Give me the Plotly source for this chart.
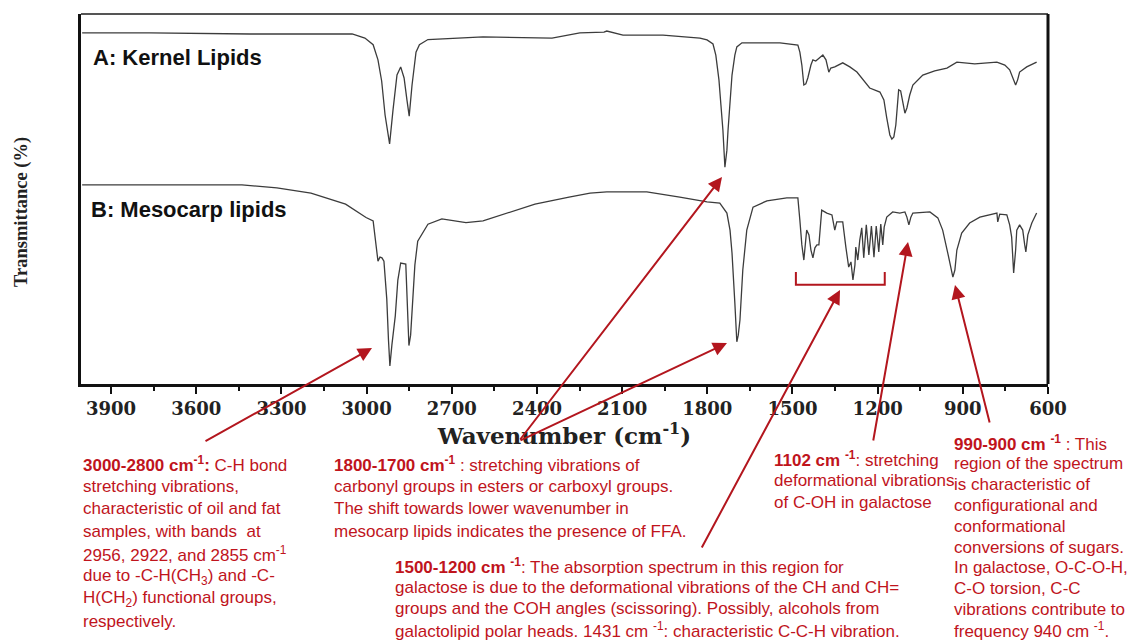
import plotly.graph_objects as go

# ---------------- data ----------------
kernel_wn = [4002, 3763, 3411, 3051, 3006, 2977, 2960, 2947, 2935, 2919, 2907, 2893, 2880, 2868, 2858,
             2850, 2840, 2826, 2814, 2784, 2590, 2347, 2249, 2164, 2154, 2097, 1956, 1826, 1801, 1780,
             1770, 1759, 1752, 1745, 1738, 1731, 1727, 1720, 1713, 1703, 1696, 1678, 1544, 1481, 1474,
             1467, 1460, 1453, 1446, 1435, 1428, 1418, 1411, 1400, 1393, 1382, 1375, 1372, 1365, 1351,
             1323, 1298, 1273, 1245, 1228, 1192, 1178, 1168, 1157, 1150, 1143, 1136, 1129, 1126, 1119,
             1111, 1104, 1097, 1087, 1076, 1059, 1041, 999, 956, 921, 858, 780, 752, 735, 724,
             714, 707, 700, 675, 640]
kernel_T = [94.9, 94.9, 94.6, 94.6, 93.5, 91.7, 87.6, 81.9, 72.7, 64.9, 74.1, 83.5, 85.7, 82.7, 76.8,
            72.4, 80.8, 89.7, 91.7, 93.1, 93.8, 93.5, 94.9, 95.1, 95.4, 94.3, 94.3, 93.5, 93.0, 91.9,
            88.9, 82.2, 75.4, 68.6, 58.6, 63.2, 68.6, 76.8, 83.5, 88.9, 91.1, 92.2, 92.2, 91.6, 89.7,
            86.2, 80.8, 81.1, 82.7, 86.2, 87.6, 87.3, 87.8, 88.6, 88.9, 87.6, 85.4, 84.3, 85.4, 85.7,
            86.8, 85.7, 84.3, 81.6, 80.0, 78.9, 76.8, 71.9, 67.3, 66.2, 66.8, 70.0, 76.8, 79.5, 79.2,
            76.2, 73.2, 74.6, 78.1, 80.8, 82.2, 83.5, 84.6, 85.4, 87.0, 86.5, 87.0, 86.2, 84.9, 82.7,
            80.8, 82.2, 84.3, 85.7, 87.0]

mesocarp_wn = [4002, 3763, 3439, 3316, 3196, 3074, 3002, 2977, 2965, 2960, 2953, 2946, 2939, 2929, 2923,
               2918, 2911, 2899, 2890, 2880, 2862, 2856, 2851, 2845, 2838, 2830, 2820, 2784, 2735, 2650,
               2590, 2516, 2407, 2287, 2213, 2154, 2013, 1897, 1801, 1756, 1731, 1720, 1713, 1703, 1696,
               1691, 1685, 1675, 1661, 1639, 1590, 1520, 1481, 1474, 1467, 1460, 1453, 1450, 1442, 1435,
               1428, 1421, 1414, 1407, 1397, 1379, 1361, 1351, 1344, 1323, 1312, 1302, 1294, 1287, 1280,
               1277, 1270, 1263, 1256, 1249, 1240, 1231, 1222, 1213, 1205, 1196, 1189, 1182, 1177, 1168,
               1147, 1122, 1104, 1097, 1090, 1083, 1076, 1016, 988, 971, 953, 942, 935, 928, 921,
               904, 876, 840, 780, 777, 770, 745, 735, 728, 721, 714, 710, 700, 689, 682,
               678, 671, 657, 640]
mesocarp_T = [53.8, 53.8, 53.8, 53.0, 51.6, 48.6, 45.0, 44.1, 36.8, 33.2, 34.3, 34.1, 33.2, 23.0, 11.9,
              4.9, 10.5, 18.4, 28.1, 32.7, 32.4, 22.7, 10.4, 13.2, 21.2, 32.2, 38.6, 43.2, 44.6, 43.6,
              44.1, 45.9, 48.6, 50.5, 51.6, 51.9, 51.9, 50.5, 49.2, 48.9, 46.2, 41.6, 35.4, 21.9, 11.4,
              13.2, 17.3, 30.8, 41.6, 47.8, 49.5, 50.3, 50.3, 44.3, 37.6, 33.5, 38.9, 41.6, 40.3, 36.2,
              34.1, 36.8, 37.6, 37.6, 47.0, 46.2, 45.7, 41.6, 43.8, 43.8, 37.0, 31.6, 33.0, 28.1, 32.2,
              37.0, 33.5, 38.9, 42.2, 34.1, 43.0, 34.9, 42.7, 34.3, 42.7, 35.7, 43.2, 37.6, 42.4, 45.1,
              46.5, 46.2, 46.5, 45.1, 43.0, 45.1, 46.2, 46.5, 44.9, 41.6, 35.4, 31.4, 28.9, 30.8, 36.2,
              40.8, 43.5, 45.1, 46.2, 43.8, 45.9, 45.7, 43.0, 39.7, 30.0, 36.2, 41.6, 43.0, 41.6, 37.6,
              35.7, 40.3, 43.5, 46.2]

assert len(kernel_wn) == len(kernel_T)
assert len(mesocarp_wn) == len(mesocarp_T)

tick_vals = [3900, 3600, 3300, 3000, 2700, 2400, 2100, 1800, 1500, 1200, 900, 600]
tick_text = [str(v) for v in tick_vals]

bracket_wn = [1488, 1175]      # bracketed 1500-1200 region
bracket_T = [30.3, 26.8]

series_labels = ["A: Kernel Lipids", "B: Mesocarp lipids"]

block_ch = ["<b>3000-2800 cm<sup>-1</sup>:</b> C-H bond",
            "stretching vibrations,",
            "characteristic of oil and fat",
            "samples, with bands  at",
            "2956, 2922, and 2855 cm<sup>-1</sup>",
            "due to -C-H(CH<sub>3</sub>) and -C-",
            "H(CH<sub>2</sub>) functional groups,",
            "respectively."]
block_co = ["<b>1800-1700 cm<sup>-1</sup></b> : stretching vibrations of",
            "carbonyl groups in esters or carboxyl groups.",
            "The shift towards lower wavenumber in",
            "mesocarp lipids indicates the presence of FFA."]
block_gal = ["<b>1500-1200 cm <sup>-1</sup></b>: The absorption spectrum in this region for",
             "galactose is due to the deformational vibrations of the CH and CH=",
             "groups and the COH angles (scissoring). Possibly, alcohols from",
             "galactolipid polar heads. 1431 cm <sup>-1</sup>: characteristic C-C-H vibration."]
block_1102 = ["<b>1102 cm <sup>-1</sup></b>: stretching",
              "deformational vibrations",
              "of C-OH in galactose"]
block_990 = ["<b>990-900 cm <sup>-1</sup></b> : This",
             "region of the spectrum",
             "is characteristic of",
             "configurational and",
             "conformational",
             "conversions of sugars.",
             "In galactose, O-C-O-H,",
             "C-O torsion, C-C",
             "vibrations contribute to",
             "frequency 940 cm <sup>-1</sup>."]

# ---------------- layout geometry (page pixels; page body has an 8px margin) ----------------
PAGE_OFF = 8
W, H = 1136 - PAGE_OFF, 641 - PAGE_OFF
L, R, T, B = 81, 1048, 14, 384          # plot frame in page pixels
PW, PH = R - L, B - T

def px(x):
    return (x - L) / PW

def py(y):
    return (B - y) / PH

RED = "#C0141C"
ARROW = "#B3161E"
SANS = "Liberation Sans, Arial, sans-serif"

fig = go.Figure()
fig.add_trace(go.Scatter(x=kernel_wn, y=kernel_T, mode="lines",
                         line=dict(color="#3c3c3c", width=1.3), name=series_labels[0]))
fig.add_trace(go.Scatter(x=mesocarp_wn, y=mesocarp_T, mode="lines",
                         line=dict(color="#3c3c3c", width=1.3), name=series_labels[1]))

annotations = []
annotations.append(dict(x=px(91), y=py(57), xref="paper", yref="paper", xanchor="left", yanchor="middle",
                        text="<b>%s</b>" % series_labels[0], showarrow=False,
                        font=dict(family=SANS, size=22, color="#111")))
annotations.append(dict(x=px(89), y=py(210), xref="paper", yref="paper", xanchor="left", yanchor="middle",
                        text="<b>%s</b>" % series_labels[1], showarrow=False,
                        font=dict(family=SANS, size=22, color="#111")))

annotations.append(dict(x=px(21), y=py(212), xref="paper", yref="paper", xanchor="center", yanchor="middle",
                        text="<b>Transmittance (%)</b>", textangle=-90, showarrow=False,
                        font=dict(family="Liberation Serif, Times New Roman, serif", size=18.5, color="#222")))

def add_block(lines, x0, y0, dy, size=17):
    for i, line in enumerate(lines):
        annotations.append(dict(x=px(x0), y=py(y0 + i * dy), xref="paper", yref="paper",
                                xanchor="left", yanchor="middle", text=line, showarrow=False,
                                borderpad=0, font=dict(family=SANS, size=size, color=RED)))

add_block(block_ch, 82, 464, 22.5)
add_block(block_co, 333, 464, 22.5)
add_block(block_gal, 394, 566, 21.2)
add_block(block_1102, 773, 459, 21.5)
add_block(block_990, 953, 443, 20.8)

arrows = [(204, 442, 372, 348),
          (519, 441, 722, 177),
          (519, 441, 727, 343),
          (701, 549, 840, 290),
          (873, 442, 908, 242),
          (990, 424, 955, 285)]
for tx, ty, hx, hy in arrows:
    annotations.append(dict(x=px(hx), y=py(hy), xref="paper", yref="paper",
                            ax=tx - hx, ay=ty - hy, axref="pixel", ayref="pixel",
                            text="", showarrow=True, arrowhead=2, arrowsize=1.4,
                            arrowwidth=2, arrowcolor=ARROW, standoff=0, startstandoff=0))

shapes = [
    dict(type="path", xref="x", yref="y",
         path="M %g,%g L %g,%g L %g,%g L %g,%g" % (bracket_wn[0], bracket_T[0], bracket_wn[0], bracket_T[1],
                                                  bracket_wn[1], bracket_T[1], bracket_wn[1], bracket_T[0]),
         line=dict(color=ARROW, width=2)),
    dict(type="line", xref="paper", yref="paper", x0=0, x1=1, y0=1, y1=1,
         line=dict(color="#555", width=2)),
    dict(type="line", xref="paper", yref="paper", x0=1, x1=1, y0=0, y1=1,
         line=dict(color="#111", width=3)),
]

fig.update_layout(
    width=W, height=H,
    margin=dict(l=L - PAGE_OFF, r=W - (R - PAGE_OFF), t=T - PAGE_OFF, b=H - (B - PAGE_OFF)),
    paper_bgcolor="white", plot_bgcolor="white",
    showlegend=False,
    annotations=annotations,
    shapes=shapes,
    xaxis=dict(range=[4006, 600], tickvals=tick_vals, ticktext=tick_text,
               showgrid=False, zeroline=False, showline=True, linecolor="#111", linewidth=2.5,
               ticks="outside", ticklen=7, tickwidth=2, tickcolor="#111",
               minor=dict(dtick=150, ticks="outside", ticklen=4, tickwidth=2, tickcolor="#111"),
               tickfont=dict(family="DejaVu Serif, serif", size=18, color="#222", weight="bold"),
               title=dict(text="<b>Wavenumber (cm<sup>-1</sup>)</b>", standoff=6,
                          font=dict(family="DejaVu Serif, serif", size=23, color="#222"))),
    yaxis=dict(range=[0, 100], showticklabels=False, ticks="", showgrid=False, zeroline=False,
               showline=True, linecolor="#111", linewidth=3),
)

fig.write_html("out.html")
